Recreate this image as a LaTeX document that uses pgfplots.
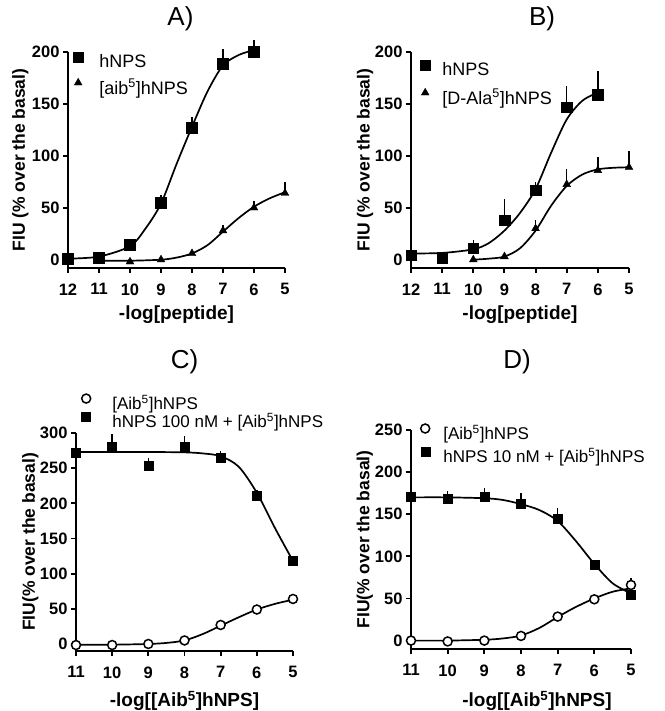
\documentclass[border=0pt]{standalone}
\usepackage{fontspec}
\setmainfont{Liberation Sans}
\usepackage{pgfplots}
\pgfplotsset{compat=1.18}

\pgfplotsset{
  prism/.style={
    scale only axis, axis lines=left, axis line style={-, line width=1.9pt},
    x dir=reverse, xmin=5, tick align=outside, major tick length=5pt,
    tick style={black, line width=1.9pt},
    /pgf/number format/assume math mode=true,
    tick label style={font=\fontsize{16.5}{16.5}\selectfont\bfseries},
    xticklabel style={yshift=-7pt},
    ylabel style={font=\fontsize{17.5}{17.5}\selectfont\bfseries},
    xlabel style={font=\fontsize{19}{19}\selectfont\bfseries},
    title style={font=\fontsize{26}{26}\selectfont},
    legend cell align=left,
    legend style={draw=none, fill=none, inner sep=0pt, outer sep=0pt,
      at={(axis description cs:0,1)}, anchor=north west,
      nodes={inner xsep=2pt, inner ysep=1pt}},
    clip=false,
  },
  fit/.style={black, line width=1.7pt, smooth, forget plot},
  pts/.style={only marks, black, error bars/y dir=plus, error bars/y explicit,
    error bars/error mark=none, error bars/error bar style={line width=1.5pt}},
}

\begin{document}
\begin{tikzpicture}
\useasboundingbox (0pt,0pt) rectangle (664pt,-711pt);

% A)
\begin{axis}[prism, at={(68pt,-268pt)}, anchor=south west,
  width=217pt, height=216pt, xmax=12, ymin=-8, ymax=200,
  xtick={5,...,12}, ytick={0,50,...,200},
  title={A)}, title style={at={(axis description cs:0.5,1)}, anchor=center, yshift=27pt, xshift=4pt},
  xlabel={-log[peptide]}, xlabel style={at={(axis description cs:0.5,0)}, anchor=center, yshift=-47pt},
  ylabel={FIU (\% over the basal)}, ylabel style={at={(axis description cs:-0.22,0.5)}, anchor=center},
  legend style={xshift=4pt, yshift=0pt, row sep=8pt, font=\fontsize{18}{18}\selectfont},
  legend image code/.code={\path (0pt,0pt) (25pt,0pt); \draw[#1] plot coordinates {(6pt,4.5pt)};}]
\addplot[fit] coordinates {(12,1)(11,3)(10,13)(9.5,30)(9,54)(8.5,92)(8,128)(7.5,162)(7,187)(6.5,197)(6,202)};
\addplot[fit] coordinates {(11,-1)(10,-1)(9,0)(8.5,2)(8,6)(7.5,14)(7,27)(6.5,40)(6,51)(5.5,59)(5,65)};
\addplot[pts, mark=square*, mark size=5.3pt] coordinates {
  (12,1) +- (0,0) (11,2) +- (0,1) (10,14.5) +- (0,2) (9,55) +- (0,7)
  (8,127) +- (0,10) (7,189) +- (0,14) (6,200) +- (0,12)};
\addlegendentry{hNPS}
\addplot[pts, mark=triangle*, mark size=4.5pt] coordinates {
  (11,0) +- (0,0) (10,-2) +- (0,1) (9,0) +- (0,1) (8,6) +- (0,2)
  (7,28) +- (0,5) (6,50) +- (0,7) (5,64) +- (0,11)};
\addlegendentry{[aib\textsuperscript{5}]hNPS}
\end{axis}

% B)
\begin{axis}[prism, at={(411pt,-268pt)}, anchor=south west,
  width=218pt, height=216pt, xmax=12, ymin=-8, ymax=200,
  xtick={5,...,12}, ytick={0,50,...,200},
  title={B)}, title style={at={(axis description cs:0.5,1)}, anchor=center, yshift=27pt, xshift=22pt},
  xlabel={-log[peptide]}, xlabel style={at={(axis description cs:0.5,0)}, anchor=center, yshift=-47pt},
  ylabel={FIU (\% over the basal)}, ylabel style={at={(axis description cs:-0.21,0.5)}, anchor=center},
  legend style={xshift=8pt, yshift=-8pt, row sep=10pt, font=\fontsize{18}{18}\selectfont},
  legend image code/.code={\path (0pt,0pt) (21pt,0pt); \draw[#1] plot coordinates {(6pt,4.5pt)};}]
\addplot[fit] coordinates {(12,6)(11,6.5)(10,10)(9.5,16)(9,28)(8.5,45)(8,68)(7.5,103)(7,135)(6.5,153)(6,161)};
\addplot[fit] coordinates {(10,0)(9.5,1)(9,3)(8.5,11)(8,28)(7.5,52)(7,71)(6.5,82)(6,87)(5.5,88.5)(5,89)};
\addplot[pts, mark=square*, mark size=5.3pt] coordinates {
  (12,4.2) +- (0,1) (11,1.9) +- (0,1) (10,11) +- (0,8) (9,38) +- (0,20)
  (8,67) +- (0,8) (7,147) +- (0,20) (6,159) +- (0,23)};
\addlegendentry{hNPS}
\addplot[pts, mark=triangle*, mark size=4.5pt] coordinates {
  (10,0) +- (0,2) (9,3) +- (0,1) (8,30) +- (0,8) (7,72.5) +- (0,15)
  (6,86) +- (0,13) (5,89) +- (0,16)};
\addlegendentry{[D-Ala\textsuperscript{5}]hNPS}
\end{axis}

% C)
\begin{axis}[prism, at={(76pt,-651pt)}, anchor=south west,
  width=217pt, height=218pt, xmax=11, ymin=-10, ymax=300,
  xtick={5,...,11}, ytick={0,50,...,300},
  title={C)}, title style={at={(axis description cs:0.5,1)}, anchor=center, yshift=65pt},
  xlabel={-log[[Aib\textsuperscript{5}]hNPS]}, xlabel style={at={(axis description cs:0.5,0)}, anchor=center, yshift=-50pt},
  ylabel={FIU(\% over the basal)}, ylabel style={at={(axis description cs:-0.21,0.5)}, anchor=center},
  legend style={at={(axis description cs:0,1)}, anchor=south west, xshift=4pt, yshift=3pt, row sep=0pt, font=\fontsize{17}{17}\selectfont},
  legend image code/.code={\path (0pt,0pt) (30pt,0pt); \draw[#1] plot coordinates {(6pt,4.5pt)};}]
\addplot[fit] coordinates {(11,-1)(10,-1)(9,0)(8.5,1.5)(8,5)(7.5,14)(7,26)(6.5,38)(6,49)(5.5,57)(5,63)};
\addplot[fit] coordinates {(11,273)(10,273)(9,273)(8,272.5)(7.5,271)(7,267)(6.5,252)(6,215)(5.5,165)(5,118)};
\addplot[pts, mark=*, mark size=4.5pt, mark options={fill=white, line width=1.5pt}] coordinates {
  (11,-1.5) +- (0,1) (10,-1.5) +- (0,1) (9,0) +- (0,1) (8,5) +- (0,2)
  (7,27) +- (0,3) (6,49) +- (0,3) (5,64) +- (0,4)};
\addlegendentry{[Aib\textsuperscript{5}]hNPS}
\addplot[pts, mark=square*, mark size=4.5pt] coordinates {
  (11,272) +- (0,3) (10,280) +- (0,19) (9,253) +- (0,11) (8,281) +- (0,15)
  (7,265) +- (0,9) (6,211) +- (0,8) (5,118) +- (0,3)};
\addlegendentry{hNPS 100 nM + [Aib\textsuperscript{5}]hNPS}
\end{axis}

% D)
\begin{axis}[prism, at={(411pt,-649pt)}, anchor=south west,
  width=220pt, height=219pt, xmax=11, ymin=-10, ymax=250,
  xtick={5,...,11}, ytick={0,50,...,250},
  title={D)}, title style={at={(axis description cs:0.5,1)}, anchor=center, yshift=62pt, xshift=-4pt},
  xlabel={-log[[Aib\textsuperscript{5}]hNPS]}, xlabel style={at={(axis description cs:0.5,0)}, anchor=center, yshift=-52pt, xshift=16pt},
  ylabel={FIU(\% over the basal)}, ylabel style={at={(axis description cs:-0.21,0.5)}, anchor=center},
  legend style={xshift=8pt, yshift=6pt, row sep=5pt, font=\fontsize{17}{17}\selectfont},
  legend image code/.code={\path (0pt,0pt) (22pt,0pt); \draw[#1] plot coordinates {(6pt,4.5pt)};}]
\addplot[fit] coordinates {(11,0)(10,0)(9,1)(8.5,2.5)(8,6)(7.5,15)(7,28)(6.5,40)(6,50)(5.5,58)(5,62)};
\addplot[fit] coordinates {(11,170)(10,170)(9,169)(8.5,167)(8,162)(7.5,155)(7,142)(6.5,118)(6,91)(5.5,68)(5,56)};
\addplot[pts, mark=*, mark size=4.5pt, mark options={fill=white, line width=1.5pt}] coordinates {
  (11,0) +- (0,1) (10,-1) +- (0,1) (9,0) +- (0,1) (8,5.5) +- (0,2)
  (7,28.5) +- (0,3) (6,49) +- (0,4) (5,66) +- (0,8)};
\addlegendentry{[Aib\textsuperscript{5}]hNPS}
\addplot[pts, mark=square*, mark size=4.5pt] coordinates {
  (11,171) +- (0,3) (10,169) +- (0,8) (9,171) +- (0,10) (8,163) +- (0,12)
  (7,145) +- (0,12) (6,90) +- (0,3) (5,54) +- (0,3)};
\addlegendentry{hNPS 10 nM + [Aib\textsuperscript{5}]hNPS}
\end{axis}
\end{tikzpicture}
\end{document}
